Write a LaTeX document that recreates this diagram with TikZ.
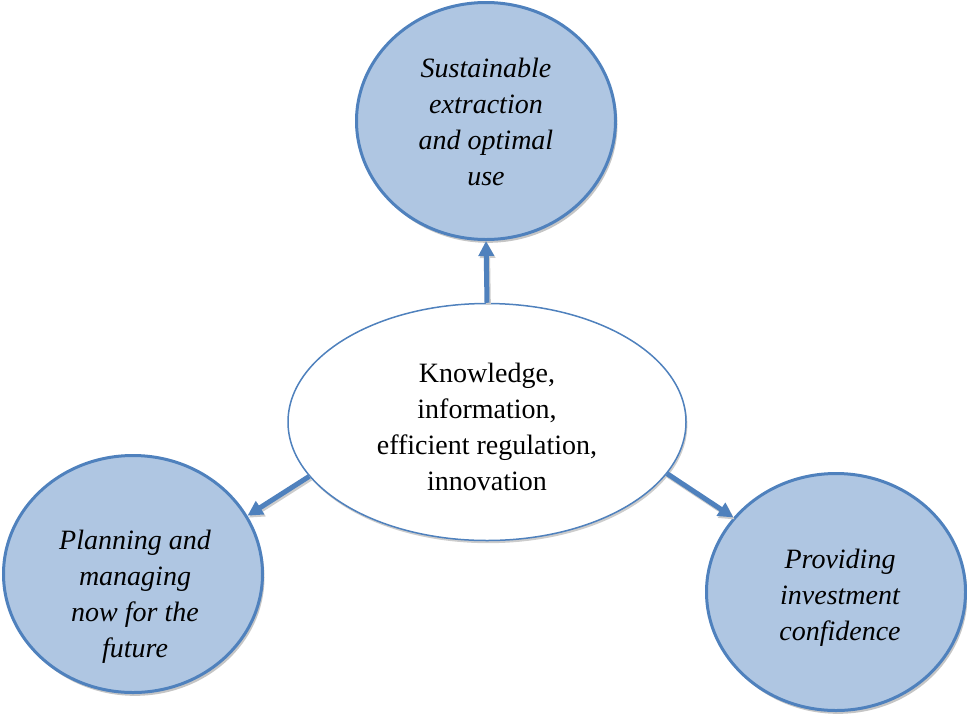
\documentclass[tikz,border=0pt]{standalone}
\usepackage{fontspec}
\setmainfont{Liberation Serif}
\usetikzlibrary{shapes.geometric,arrows.meta,shadows}
\definecolor{accent}{HTML}{4F81BD}
\definecolor{bubble}{HTML}{AFC6E2}
\tikzset{
  bubblenode/.style={ellipse,draw=accent,line width=3*0.75pt,fill=bubble,inner sep=0pt,
    minimum width=259*0.75pt,minimum height=237*0.75pt,
    drop shadow={shadow xshift=1.5pt,shadow yshift=-2.5pt,fill=black!45,opacity=0.5}},
  centernode/.style={ellipse,draw=accent,line width=1.5*0.75pt,fill=white,inner sep=0pt,
    minimum width=398*0.75pt,minimum height=237*0.75pt,
    drop shadow={shadow xshift=1pt,shadow yshift=-2pt,fill=black!40,opacity=0.5}},
  txt/.style={align=center,font=\fontsize{21pt}{27pt}\selectfont},
  itxt/.style={txt,font=\fontsize{21pt}{27pt}\selectfont\itshape},
  conn/.style={draw=accent,line width=5*0.75pt,-{Triangle[width=15*0.75pt,length=15*0.75pt]},
    preaction={draw=black!20,line width=5*0.75pt,transform canvas={xshift=1pt,yshift=-1.5pt},-{Triangle[width=15*0.75pt,length=15*0.75pt]}}}
}
\begin{document}
\begin{tikzpicture}[x=0.75pt,y=-0.75pt]
\useasboundingbox (0,0) rectangle (967,715);
\node[bubblenode] (top) at (486,121) {};
\node[bubblenode] (left) at (133,574) {};
\node[bubblenode] (right) at (836,592) {};
\node[centernode] (c) at (487,422) {};
\node[itxt] (ttop) at (486,122) {Sustainable\\extraction\\and optimal\\use};
\node[itxt] (tleft) at (135,597) {Planning and\\managing\\now for the\\future};
\node[itxt] (tright) at (840,598) {Providing\\investment\\confidence};
\node[txt] (tc) at (487,427) {Knowledge,\\information,\\efficient regulation,\\innovation};
\draw[conn] (c.north) -- (top.south);
\draw[conn] (c.197) -- (left.27);
\draw[conn] (c.-16) -- (right.144);
\end{tikzpicture}
\end{document}
